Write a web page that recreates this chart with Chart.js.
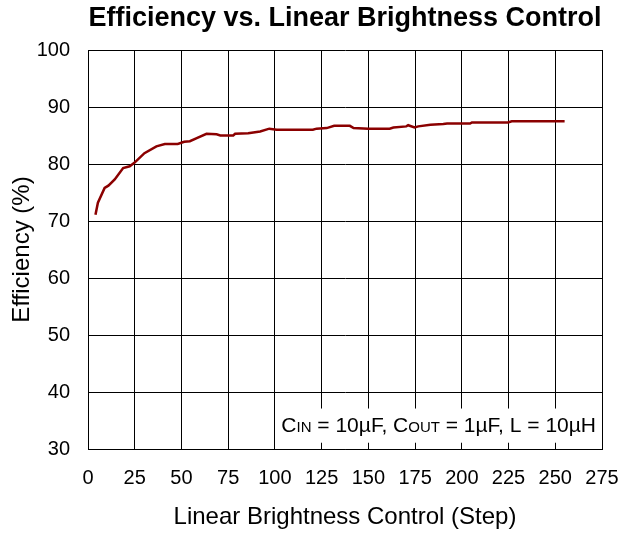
<!DOCTYPE html>
<html>
<head>
<meta charset="utf-8">
<script src="https://cdn.jsdelivr.net/npm/chart.js@4"></script>
<style>
  html, body { margin: 0; padding: 0; background: #fff; }
  #wrap { width: 621px; height: 534px; }
</style>
</head>
<body>
<div id="wrap"><canvas id="c" width="621" height="534"></canvas></div>
<script>
const chartTitle = "Efficiency vs. Linear Brightness Control";
const xTitle = "Linear Brightness Control (Step)";
const yTitle = "Efficiency (%)";
const steps = [4, 5.3, 8.9, 10.9, 14.3, 18.8, 22.3, 24.8, 30.2, 36.6, 41.1, 48, 51.5, 54.5, 57.9, 63.4, 68.8, 70.8, 77.7, 78.7, 85.7, 92.1, 97, 101, 120.3, 122.3, 127.7, 131.7, 140.1, 142.1, 150, 161.4, 163.4, 170.3, 171.3, 174.7, 176.7, 183.2, 190.1, 192.1, 204.4, 205.4, 224.7, 226.7, 255];
const efficiency = [71.1, 73.2, 75.8, 76.2, 77.3, 79.3, 79.6, 80.2, 81.9, 83.1, 83.5, 83.5, 83.9, 84.0, 84.5, 85.3, 85.2, 85.0, 85.0, 85.3, 85.4, 85.7, 86.2, 86.0, 86.0, 86.2, 86.3, 86.7, 86.7, 86.3, 86.2, 86.2, 86.4, 86.6, 86.8, 86.4, 86.6, 86.9, 87.0, 87.1, 87.1, 87.3, 87.3, 87.5, 87.5];
const xTicks = [0, 25, 50, 75, 100, 125, 150, 175, 200, 225, 250, 275];
const yTicks = [30, 40, 50, 60, 70, 80, 90, 100];
const noteParts = [["C", "n"], ["IN", "s"], [" = 10\u00b5F, C", "n"], ["OUT", "s"], [" = 1\u00b5F, L = 10\u00b5H", "n"]];

const FONT = "'Liberation Sans', Arial, sans-serif";

const notePlugin = {
  id: 'note',
  beforeDatasetsDraw(chart) {
    const ctx = chart.ctx;
    const area = chart.chartArea;
    const xs = chart.scales.x, ys = chart.scales.y;
    ctx.save();
    const bx = xs.getPixelForValue(100) + 1;
    const by = ys.getPixelForValue(37.1);
    const bb = ys.getPixelForValue(31.1);
    ctx.fillStyle = '#fff';
    ctx.fillRect(bx, by, area.right - 1 - bx, bb - by);
    ctx.fillStyle = '#000';
    ctx.textBaseline = 'alphabetic';
    ctx.textAlign = 'left';
    const big = "21px " + FONT, small = "15px " + FONT;
    let total = 0;
    for (const [t, k] of noteParts) { ctx.font = k === 'n' ? big : small; total += ctx.measureText(t).width; }
    let x = area.right - 6 - total;
    const y = ys.getPixelForValue(32.9);
    for (const [t, k] of noteParts) {
      ctx.font = k === 'n' ? big : small;
      ctx.fillText(t, x, y);
      x += ctx.measureText(t).width;
    }
    ctx.restore();
  }
};

new Chart(document.getElementById('c'), {
  type: 'scatter',
  data: {
    datasets: [{
      data: steps.map((s, i) => ({ x: s, y: efficiency[i] })),
      showLine: true,
      borderColor: '#8b0000',
      borderWidth: 2.5,
      pointRadius: 0,
      tension: 0,
      fill: false
    }]
  },
  options: {
    responsive: false,
    animation: false,
    layout: { padding: { right: 19, left: 0, bottom: 0, top: 0 } },
    plugins: {
      legend: { display: false },
      tooltip: { enabled: false },
      title: {
        display: true,
        fullSize: false,
        text: chartTitle,
        color: '#000',
        font: { family: FONT, size: 27, weight: 'bold', lineHeight: 1.2 },
        padding: { top: 2, bottom: 15.6 }
      }
    },
    scales: {
      x: {
        type: 'linear',
        min: 0, max: 275,
        afterBuildTicks: s => { s.ticks = xTicks.map(v => ({ value: v })); },
        afterFit: s => { s.height = 85; s.paddingLeft = 0; s.paddingRight = 0; },
        grid: { color: '#000', lineWidth: 1, tickLength: 0, drawTicks: false },
        border: { color: '#000', width: 1 },
        ticks: { color: '#000', font: { family: FONT, size: 20 }, padding: 17, maxRotation: 0, autoSkip: false },
        title: { display: true, text: xTitle, color: '#000', font: { family: FONT, size: 24 }, padding: { top: 4, bottom: 2 } }
      },
      y: {
        type: 'linear',
        min: 30, max: 100,
        afterBuildTicks: s => { s.ticks = yTicks.map(v => ({ value: v })); },
        afterFit: s => { s.width = 88; s.paddingTop = 0; s.paddingBottom = 0; },
        grid: { color: '#000', lineWidth: 1, tickLength: 0, drawTicks: false },
        border: { color: '#000', width: 1 },
        ticks: { color: '#000', font: { family: FONT, size: 20 }, padding: 18, autoSkip: false },
        title: { display: true, text: yTitle, color: '#000', font: { family: FONT, size: 24 }, padding: { top: 7.6, bottom: 4 } }
      }
    }
  },
  plugins: [notePlugin]
});
</script>
</body>
</html>
